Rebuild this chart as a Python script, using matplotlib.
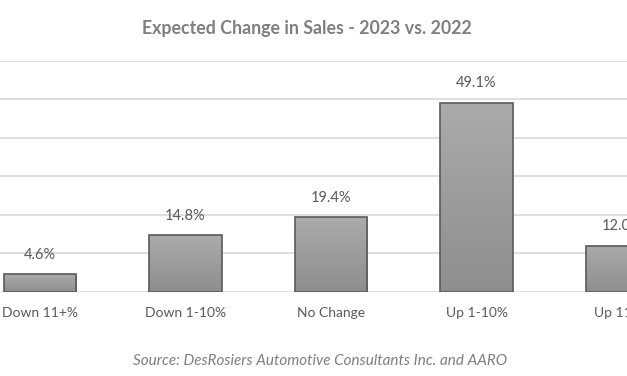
import matplotlib.pyplot as plt
import numpy as np

# data
categories = ['Down 11+%', 'Down 1-10%', 'No Change', 'Up 1-10%', 'Up 11+%']
values = [4.6, 14.8, 19.4, 49.1, 12.0]
labels = ['4.6%', '14.8%', '19.4%', '49.1%', '12.0%']

plt.rcParams['font.family'] = ['Lato', 'DejaVu Sans']

fig = plt.figure(figsize=(6.27, 3.76), dpi=100)
ax = fig.add_axes([0, 0.2234, 1, 0.6144])

x = np.arange(len(categories))
bars = ax.bar(x, values, width=0.5, color='none', edgecolor='#5a5a5a', linewidth=1.2, zorder=3)

# gradient fill inside each bar
grad = np.linspace(0, 1, 256).reshape(-1, 1)
cmap = plt.matplotlib.colors.LinearSegmentedColormap.from_list('g', ['#8e8e8e', '#ababab'])
for b in bars:
    x0, y0 = b.get_x(), b.get_y()
    w, h = b.get_width(), b.get_height()
    im = ax.imshow(grad, extent=[x0, x0 + w, y0, y0 + h], aspect='auto',
                   cmap=cmap, origin='lower', zorder=2)
    im.set_clip_path(b)

for xi, v, t in zip(x, values, labels):
    ax.annotate(t, (xi, v), xytext=(0, 9), textcoords='offset points',
                ha='center', va='bottom', fontsize=10.5, color='#595959')
    ax.annotate(categories[xi], (xi, 0), xytext=(0, -11), textcoords='offset points',
                ha='center', va='top', fontsize=10, color='#595959')

ax.set_xlim(-0.275, 4.034)
ax.set_ylim(0, 60)
ax.set_yticks(np.arange(0, 61, 10))
ax.yaxis.grid(True, color='#d9d9d9', linewidth=1.2)
ax.set_axisbelow(True)
ax.tick_params(left=False, bottom=False, labelleft=False, labelbottom=False)
for s in ax.spines.values():
    s.set_visible(False)

fig.text(0.49, 0.923, 'Expected Change in Sales - 2023 vs. 2022', ha='center', va='center',
         fontsize=12.8, fontweight='bold', color='#7f7f7f')
fig.text(0.511, 0.04, 'Source: DesRosiers Automotive Consultants Inc. and AARO', ha='center',
         va='center', fontsize=11, style='italic', color='#7f7f7f')

plt.savefig('out.png', dpi=100)
